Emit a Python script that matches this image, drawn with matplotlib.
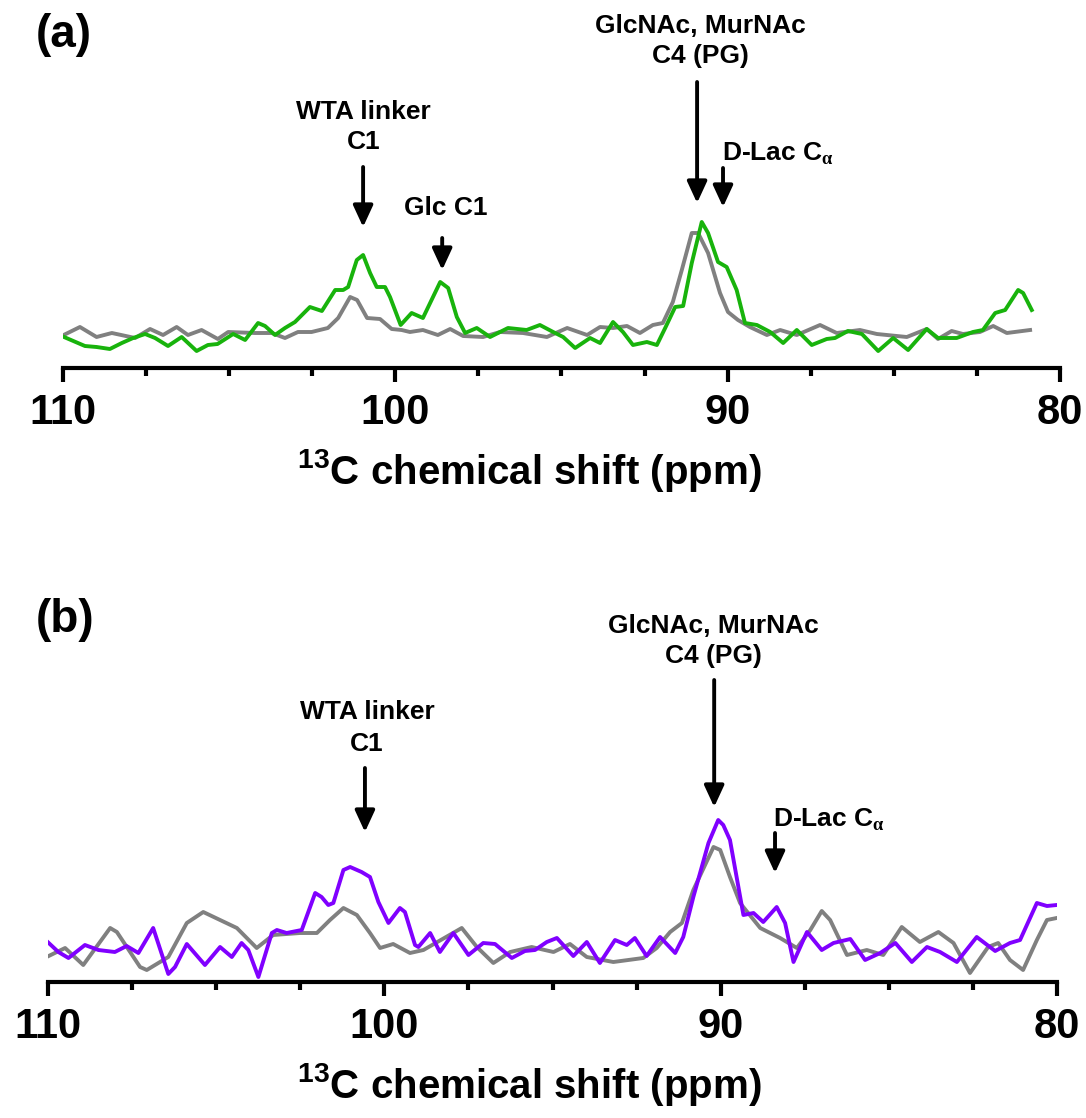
import numpy as np
import matplotlib
matplotlib.use("Agg")
import matplotlib.pyplot as plt
from matplotlib.ticker import MultipleLocator

# ---- panel (a): 13C spectra (ppm, intensity in arbitrary units) ----
ppm_a_green = [110.04, 109.34, 108.99, 108.59, 108.23, 107.89, 107.53, 107.23, 106.84, 106.43,
               105.98, 105.64, 105.35, 104.88, 104.52, 104.13, 103.92, 103.62, 103.32, 103.02,
               102.57, 102.21, 101.81, 101.57, 101.42, 101.16, 100.97, 100.76, 100.56, 100.31,
               100.16, 99.84, 99.51, 99.17, 98.65, 98.41, 98.15, 97.90, 97.55, 97.15,
               96.61, 96.05, 95.65, 95.25, 94.95, 94.59, 94.14, 93.84, 93.45, 93.15,
               92.85, 92.43, 92.13, 91.88, 91.58, 91.34, 91.08, 90.78, 90.59, 90.29,
               90.03, 89.73, 89.48, 89.12, 88.72, 88.33, 87.92, 87.47, 87.02, 86.77,
               86.38, 85.96, 85.47, 85.02, 84.57, 84.01, 83.67, 83.11, 82.62, 82.32,
               81.95, 81.65, 81.26, 81.11, 80.85]
int_a_green = [34, 24, 23, 21, 27, 32, 36, 32, 24, 33,
               19, 25, 26, 36, 30, 47, 44, 35, 42, 48,
               63, 59, 80, 80, 83, 110, 115, 97, 83, 83,
               73, 45, 57, 52, 88, 82, 53, 37, 42, 33,
               42, 40, 45, 38, 33, 22, 32, 27, 48, 38,
               25, 28, 25, 42, 63, 64, 107, 148, 137, 108,
               103, 80, 47, 45, 38, 27, 40, 25, 31, 32,
               39, 36, 19, 32, 20, 41, 32, 32, 38, 40,
               57, 60, 80, 77, 60]

ppm_a_gray = [110.04, 109.49, 108.99, 108.53, 107.83, 107.38, 106.99, 106.58, 106.24, 105.83,
              105.34, 105.03, 104.22, 103.72, 103.32, 102.93, 102.52, 102.03, 101.72, 101.36,
              101.15, 100.85, 100.46, 100.11, 99.81, 99.56, 99.17, 98.72, 98.35, 97.96,
              97.36, 96.85, 96.16, 95.44, 94.83, 94.23, 93.84, 93.45, 93.03, 92.64,
              92.25, 91.95, 91.65, 91.38, 91.08, 90.89, 90.59, 90.23, 89.99, 89.69,
              89.33, 88.82, 88.42, 87.92, 87.22, 86.72, 86.02, 85.51, 84.61, 84.01,
              83.67, 83.26, 82.92, 82.41, 82.01, 81.60, 80.90]
int_a_gray = [34, 43, 33, 37, 32, 41, 35, 43, 35, 40,
              31, 38, 37, 37, 32, 38, 38, 42, 52, 73,
              70, 52, 51, 41, 40, 38, 40, 35, 41, 34,
              33, 38, 37, 33, 42, 35, 43, 42, 44, 37,
              45, 47, 68, 100, 137, 137, 117, 77, 58, 50,
              43, 35, 40, 35, 45, 37, 40, 36, 33, 41,
              31, 39, 36, 38, 44, 37, 40]

# ---- panel (b) ----
ppm_b_purple = [110.05, 109.70, 109.40, 108.91, 108.51, 108.02, 107.67, 107.32, 106.88, 106.43,
                106.23, 105.88, 105.34, 104.89, 104.54, 104.25, 104.05, 103.75, 103.35, 103.20,
                102.91, 102.46, 102.06, 101.87, 101.67, 101.52, 101.22, 101.02, 100.68, 100.43,
                100.18, 99.88, 99.54, 99.39, 99.09, 98.99, 98.64, 98.35, 97.95, 97.50,
                97.06, 96.71, 96.21, 95.82, 95.52, 95.17, 94.87, 94.38, 93.98, 93.59,
                93.14, 92.79, 92.55, 92.20, 91.80, 91.35, 91.11, 90.81, 90.36, 90.07,
                89.92, 89.72, 89.32, 89.02, 88.73, 88.33, 88.08, 87.83, 87.43, 86.99,
                86.64, 86.14, 85.70, 85.25, 84.80, 84.31, 83.86, 83.47, 82.97, 82.38,
                81.83, 81.39, 81.09, 80.59, 80.29, 80.00]
int_b_purple = [41, 30, 24, 37, 32, 30, 36, 29, 54, 8,
                15, 38, 17, 35, 25, 39, 32, 5, 49, 52,
                49, 52, 89, 85, 77, 79, 112, 115, 110, 105,
                80, 59, 74, 70, 37, 35, 49, 30, 49, 27,
                39, 38, 24, 31, 32, 40, 44, 26, 40, 19,
                42, 37, 44, 26, 45, 29, 45, 85, 139, 162,
                157, 142, 67, 69, 60, 75, 59, 20, 50, 32,
                39, 43, 22, 29, 39, 20, 35, 30, 20, 45,
                31, 39, 42, 79, 76, 77]

ppm_b_gray = [110.05, 109.50, 108.96, 108.16, 107.96, 107.27, 107.07, 106.43, 105.88, 105.39,
              104.89, 104.39, 103.80, 103.31, 102.51, 102.01, 101.62, 101.22, 100.82, 100.43,
              100.13, 99.74, 99.24, 98.84, 97.70, 97.25, 96.76, 96.26, 95.62, 94.97,
              94.48, 93.98, 93.19, 92.30, 91.90, 91.50, 91.15, 90.81, 90.21, 90.01,
              89.72, 89.42, 88.82, 88.23, 87.73, 87.33, 86.99, 86.74, 86.24, 85.65,
              85.16, 84.61, 84.07, 83.52, 83.07, 82.58, 82.04, 81.74, 81.39, 81.00,
              80.59, 80.29, 80.00]
int_b_gray = [25, 34, 17, 54, 50, 15, 12, 25, 59, 70,
              62, 54, 34, 47, 49, 49, 62, 74, 67, 49,
              34, 38, 29, 32, 54, 35, 19, 30, 35, 30,
              38, 25, 20, 24, 34, 50, 59, 92, 135, 132,
              105, 79, 54, 44, 34, 52, 71, 62, 27, 32,
              27, 55, 40, 50, 39, 9, 35, 39, 22, 12,
              42, 62, 64]

W, H = 1086, 1118
plt.rcParams['font.family'] = ['Liberation Sans', 'DejaVu Sans']
plt.rcParams['font.weight'] = 'bold'
plt.rcParams['mathtext.fontset'] = 'custom'
plt.rcParams['mathtext.rm'] = 'Liberation Serif'
plt.rcParams['mathtext.bf'] = 'Liberation Sans:bold'

fig = plt.figure(figsize=(W / 100, H / 100), dpi=100)


def make_axes(left, right, top, bottom, ymax, label_x):
    ax = fig.add_axes([left / W, 1 - bottom / H, (right - left) / W, (bottom - top) / H])
    ax.set_xlim(110, 80)
    ax.set_ylim(ymax - (bottom - top), ymax)
    for s in ['left', 'right', 'top']:
        ax.spines[s].set_visible(False)
    ax.spines['bottom'].set_linewidth(3)
    ax.set_yticks([])
    ax.xaxis.set_major_locator(MultipleLocator(10))
    ax.xaxis.set_minor_locator(MultipleLocator(2.5))
    ax.tick_params(axis='x', which='major', length=10, width=3, pad=8, labelsize=30)
    ax.tick_params(axis='x', which='minor', length=6, width=3)
    ax.patch.set_alpha(0)
    ax.set_xlabel(r'$^{\mathbf{13}}$C chemical shift (ppm)', fontsize=29,
                  fontweight='bold', labelpad=10, x=label_x)
    return ax


def arrow(ax, x, y_tail, y_tip):
    ax.annotate('', xy=(x, y_tip), xytext=(x, y_tail),
                arrowprops=dict(arrowstyle='-|>,head_width=0.3,head_length=0.65',
                                mutation_scale=20, lw=2.8, color='black',
                                shrinkA=0, shrinkB=0))


# panel (a)
ax1 = make_axes(63, 1060, 0, 368, 370, 0.468)
ax1.plot(ppm_a_gray, int_a_gray, color='#808080', lw=2.8)
ax1.plot(ppm_a_green, int_a_green, color='#18b30c', lw=2.8)
arrow(ax1, 100.97, 203, 143)
arrow(ax1, 98.59, 132, 100)
arrow(ax1, 90.92, 288, 167)
arrow(ax1, 90.14, 202, 163)
ax1.text(100.96, 243, 'WTA linker\nC1', ha='center', va='center', fontsize=19,
         fontweight='bold', linespacing=1.3)
ax1.text(98.47, 162, 'Glc C1', ha='center', va='center', fontsize=19, fontweight='bold')
ax1.text(90.83, 329, 'GlcNAc, MurNAc\nC4 (PG)', ha='center', va='center', fontsize=19,
         fontweight='bold', linespacing=1.3)
ax1.text(90.17, 216, r'D-Lac C$_{\mathrm{\alpha}}$', ha='left', va='center', fontsize=19,
         fontweight='bold')
fig.text(36 / W, 1 - 35 / H, '(a)', ha='left', va='center', fontsize=33, fontweight='bold')

# panel (b)
ax2 = make_axes(48.3, 1056.7, 560, 982, 422, 0.477)
ax2.plot(ppm_b_gray, int_b_gray, color='#808080', lw=2.8)
ax2.plot(ppm_b_purple, int_b_purple, color='#8000ff', lw=2.8)
arrow(ax2, 100.58, 214, 150)
arrow(ax2, 90.19, 302, 175)
arrow(ax2, 88.38, 149, 109)
ax2.text(100.52, 254, 'WTA linker\nC1', ha='center', va='center', fontsize=19,
         fontweight='bold', linespacing=1.45)
ax2.text(90.22, 341, 'GlcNAc, MurNAc\nC4 (PG)', ha='center', va='center', fontsize=19,
         fontweight='bold', linespacing=1.3)
ax2.text(88.44, 162, r'D-Lac C$_{\mathrm{\alpha}}$', ha='left', va='center', fontsize=19,
         fontweight='bold')
fig.text(36 / W, 1 - 620 / H, '(b)', ha='left', va='center', fontsize=33, fontweight='bold')

fig.savefig('out.png', dpi=100)
